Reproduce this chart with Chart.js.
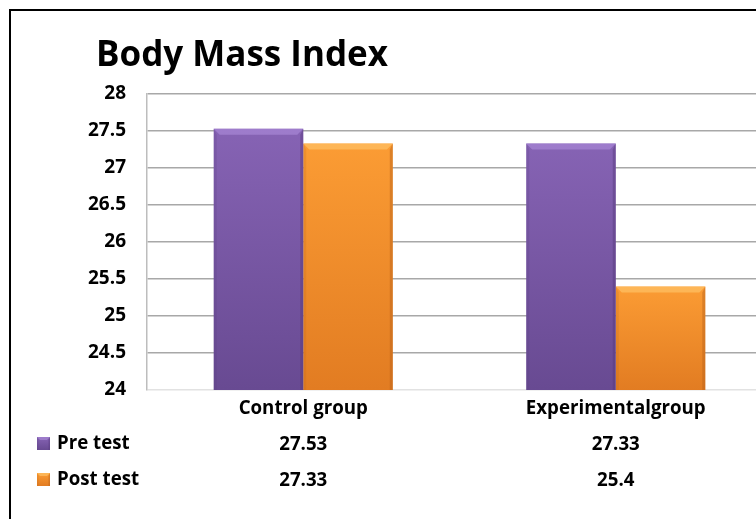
<!DOCTYPE html>
<html>
<head>
<meta charset="utf-8">
<script src="https://cdn.jsdelivr.net/npm/chart.js@4.4.1/dist/chart.umd.min.js"></script>
<style>
  html, body { margin: 0; padding: 0; background: #fff; overflow: hidden; }
  #wrap { width: 800px; height: 519px; }
</style>
</head>
<body>
<div id="wrap"><canvas id="bmi" width="800" height="519"></canvas></div>
<script>
const categories = ['Control group', 'Experimentalgroup'];
const seriesNames = ['Pre test', 'Post test'];
const preTest = [27.53, 27.33];
const postTest = [27.33, 25.4];
const yMin = 24, yMax = 28, yStep = 0.5;

const FONT = '"Open Sans", Lato, sans-serif';

const palette = {
    pre:  { top: '#8663b4', bottom: '#684a92', light: '#aa8bd8', dark: '#563a7c' },
    post: { top: '#fb9c34', bottom: '#e27c22', light: '#ffc46a', dark: '#b8621a' }
};

function barGradient(ctx, pal) {
    const chart = ctx.chart;
    const y = chart.scales && chart.scales.y;
    if (!y || ctx.raw === undefined) return pal.top;
    const top = y.getPixelForValue(ctx.raw);
    const bottom = y.getPixelForValue(yMin);
    if (!isFinite(top) || !isFinite(bottom) || top === bottom) return pal.top;
    const g = chart.ctx.createLinearGradient(0, top, 0, bottom);
    g.addColorStop(0, pal.top);
    g.addColorStop(1, pal.bottom);
    return g;
}

// little bevel on top of each bar, like the office look
function bevel(c, left, top, right, bottom, pal, b) {
    c.save();
    c.fillStyle = pal.light;
    c.globalAlpha = 0.65;
    c.beginPath();
    c.moveTo(left, top); c.lineTo(right, top);
    c.lineTo(right - b, top + b); c.lineTo(left + b, top + b);
    c.closePath(); c.fill();
    c.fillStyle = pal.dark;
    c.globalAlpha = 0.45;
    c.beginPath();
    c.moveTo(right, top); c.lineTo(right, bottom);
    c.lineTo(right - b / 2, bottom); c.lineTo(right - b / 2, top + b);
    c.closePath(); c.fill();
    c.globalAlpha = 0.2;
    c.beginPath();
    c.moveTo(left, top); c.lineTo(left + b / 2, top + b);
    c.lineTo(left + b / 2, bottom); c.lineTo(left, bottom);
    c.closePath(); c.fill();
    c.restore();
}

const decorPlugin = {
    id: 'decor',
    beforeDraw(chart) {
        const c = chart.ctx;
        c.save();
        c.strokeStyle = '#000';
        c.lineWidth = 2;
        c.strokeRect(10, 10, chart.width + 50, chart.height + 50);
        c.fillStyle = '#000';
        c.font = 'bold 35px ' + FONT;
        c.textAlign = 'left';
        c.textBaseline = 'alphabetic';
        c.fillText('Body Mass Index', 96, 66);
        c.restore();
    },
    afterDatasetsDraw(chart) {
        const c = chart.ctx;
        const bottomPx = chart.chartArea.bottom;
        chart.data.datasets.forEach((ds, di) => {
            const pal = di === 0 ? palette.pre : palette.post;
            chart.getDatasetMeta(di).data.forEach(bar => {
                const p = bar.getProps(['x', 'y', 'base', 'width'], true);
                bevel(c, p.x - p.width / 2, p.y, p.x + p.width / 2, Math.min(p.base, bottomPx), pal, 6);
            });
        });
    },
    afterDraw(chart) {
        const c = chart.ctx;
        const x = chart.scales.x;
        c.save();
        c.fillStyle = '#000';
        c.font = 'bold 18.7px ' + FONT;
        c.textBaseline = 'middle';
        c.textAlign = 'center';
        categories.forEach((cat, i) => c.fillText(cat, x.getPixelForValue(i), 409));
        const rows = [[seriesNames[0], preTest, palette.pre, 444], [seriesNames[1], postTest, palette.post, 480]];
        rows.forEach(([name, vals, pal, ry]) => {
            const g = c.createLinearGradient(0, ry - 7, 0, ry + 6);
            g.addColorStop(0, pal.top);
            g.addColorStop(1, pal.bottom);
            c.fillStyle = g;
            c.fillRect(37, ry - 7, 13, 13);
            bevel(c, 37, ry - 7, 50, ry + 6, pal, 3);
            c.fillStyle = '#000';
            c.textAlign = 'left';
            c.fillText(name, 57, ry);
            c.textAlign = 'center';
            vals.forEach((v, i) => c.fillText(String(v), x.getPixelForValue(i), ry + 1));
        });
        c.restore();
    }
};

new Chart(document.getElementById('bmi'), {
    type: 'bar',
    data: {
        labels: categories,
        datasets: [{
            label: seriesNames[0],
            data: preTest,
            backgroundColor: ctx => barGradient(ctx, palette.pre),
            borderWidth: 0,
            categoryPercentage: 0.573,
            barPercentage: 1
        }, {
            label: seriesNames[1],
            data: postTest,
            backgroundColor: ctx => barGradient(ctx, palette.post),
            borderWidth: 0,
            categoryPercentage: 0.573,
            barPercentage: 1
        }]
    },
    options: {
        responsive: false,
        animation: false,
        devicePixelRatio: 1,
        layout: { padding: { top: 94, right: 28, left: 0, bottom: 0 } },
        plugins: {
            legend: { display: false },
            tooltip: { enabled: false }
        },
        scales: {
            x: {
                grid: { display: false },
                border: { display: false },
                ticks: { display: false },
                afterFit: scale => { scale.height = 129; }
            },
            y: {
                min: yMin,
                max: yMax,
                ticks: {
                    stepSize: yStep,
                    padding: 21,
                    color: '#000',
                    font: { family: FONT, size: 19, weight: 'bold' },
                    callback: v => String(Number(v))
                },
                grid: {
                    drawTicks: false,
                    color: ctx => ctx.tick && ctx.tick.value === yMin ? '#e2e2e2' : '#a8a8a8',
                    lineWidth: 1.5
                },
                border: { display: true, color: '#bdbdbd', width: 1.5 },
                afterFit: scale => { scale.width = 147; }
            }
        }
    },
    plugins: [decorPlugin]
});
</script>
</body>
</html>
